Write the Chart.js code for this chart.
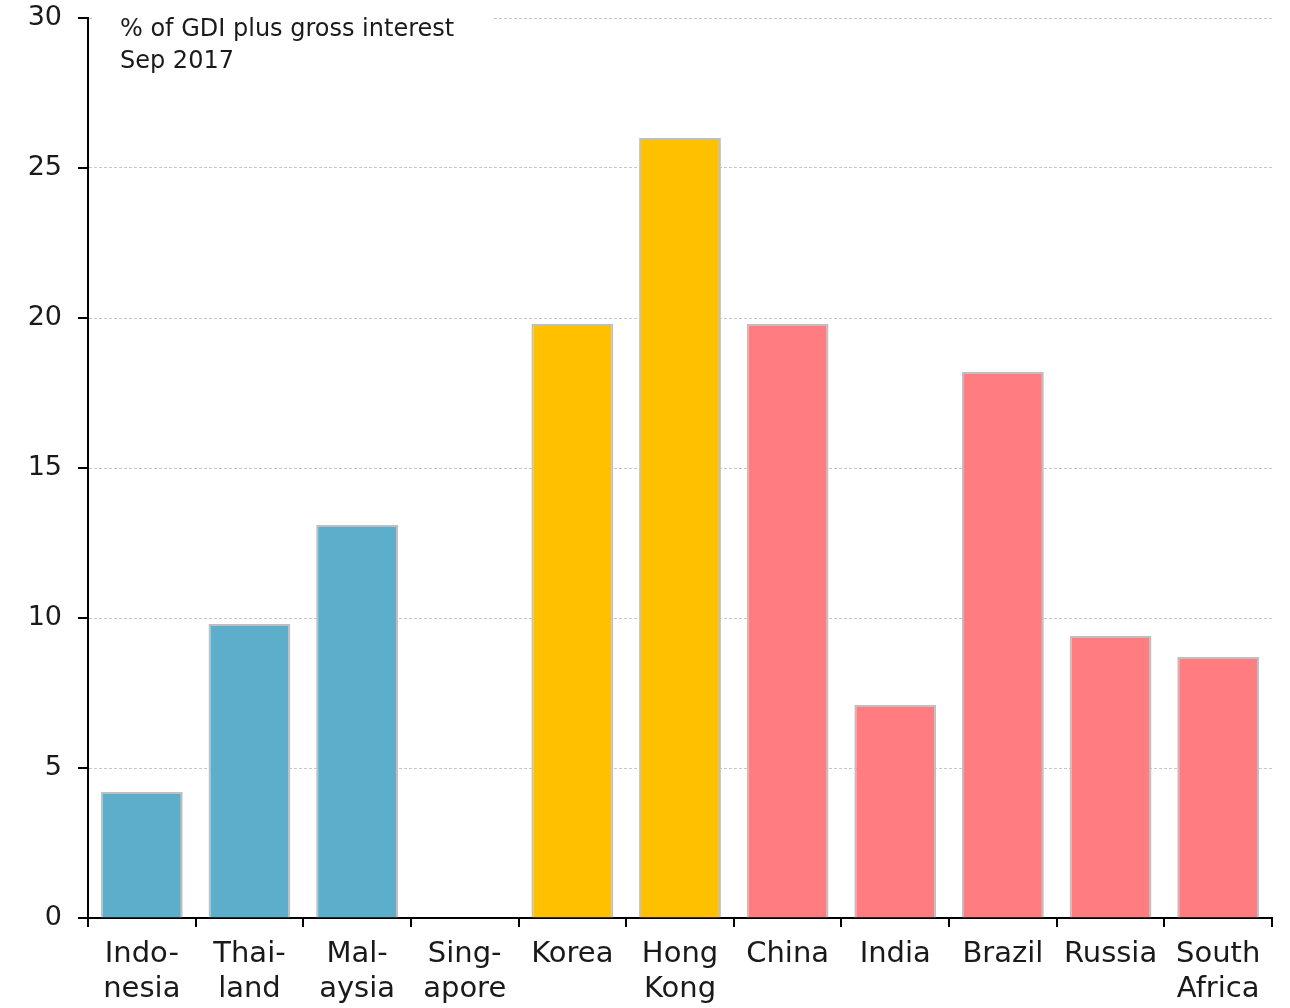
<!DOCTYPE html>
<html>
<head>
<meta charset="utf-8">
<script src="https://cdn.jsdelivr.net/npm/chart.js@4/dist/chart.umd.min.js"></script>
<style>
  html, body { margin: 0; padding: 0; background: #fff; }
  #wrap { width: 1290px; height: 1008px; }
</style>
</head>
<body>
<div id="wrap"><canvas id="debtChart" width="1290" height="1008"></canvas></div>
<script>
// Data
const categories = [
    ['Indo-', 'nesia'], ['Thai-', 'land'], ['Mal-', 'aysia'], ['Sing-', 'apore'],
    'Korea', ['Hong', 'Kong'], 'China', 'India', 'Brazil', 'Russia', ['South', 'Africa']
];
const debtService = [4.2, 9.8, 13.1, null, 19.8, 26.0, 19.8, 7.1, 18.2, 9.4, 8.7];
const groupColours = ['#5DAECB', '#5DAECB', '#5DAECB', '#5DAECB',
    '#FFC000', '#FFC000', '#FF7C80', '#FF7C80', '#FF7C80', '#FF7C80', '#FF7C80'];
const yTicks = [0, 5, 10, 15, 20, 25, 30];
const noteLines = ['% of GDI plus gross interest', 'Sep 2017'];

const FONT = '"DejaVu Sans", sans-serif';

// white box with the unit note in the top-left corner
const notePlugin = {
    id: 'note',
    afterDraw(chart) {
        const ctx = chart.ctx;
        const area = chart.chartArea;
        ctx.save();
        ctx.fillStyle = '#fff';
        ctx.fillRect(area.left + 4, area.top - 8, 400, 70);
        ctx.fillStyle = '#1a1a1a';
        ctx.font = '24px ' + FONT;
        ctx.textBaseline = 'middle';
        ctx.fillText(noteLines[0], area.left + 32, area.top + 12);
        ctx.fillText(noteLines[1], area.left + 32, area.top + 44);
        ctx.restore();
    }
};

const ctx = document.getElementById('debtChart').getContext('2d');
new Chart(ctx, {
    type: 'bar',
    data: {
        labels: categories,
        datasets: [{
            data: debtService,
            backgroundColor: groupColours,
            borderColor: '#BFBFBF',
            borderWidth: 2,
            barPercentage: 0.76,
            categoryPercentage: 1
        }]
    },
    options: {
        responsive: false,
        animation: false,
        layout: { padding: { top: 18, right: 18, left: 0, bottom: 0 } },
        plugins: {
            legend: { display: false },
            tooltip: { enabled: false }
        },
        scales: {
            x: {
                offset: true,
                grid: {
                    offset: true,
                    drawOnChartArea: false,
                    drawTicks: true,
                    tickLength: 9,
                    color: '#000',
                    lineWidth: 2
                },
                border: { color: '#000', width: 2 },
                ticks: {
                    color: '#1a1a1a',
                    font: { family: FONT, size: 29, lineHeight: 1.2 },
                    padding: 10,
                    maxRotation: 0,
                    autoSkip: false
                },
                afterFit(scale) { scale.height = 90; }
            },
            y: {
                min: 0,
                max: 30,
                afterBuildTicks(scale) { scale.ticks = yTicks.map(v => ({ value: v })); },
                grid: {
                    color: '#C8C8C8',
                    lineWidth: 1,
                    drawTicks: false
                },
                border: { color: '#000', width: 2, dash: [3, 2] },
                ticks: {
                    color: '#1a1a1a',
                    font: { family: FONT, size: 27 },
                    padding: 26
                },
                afterFit(scale) {
                    scale.width = 88;
                    scale.paddingTop = 0;
                    scale.paddingBottom = 0;
                }
            }
        }
    },
    plugins: [notePlugin, {
        id: 'axisTicks',
        // solid value axis line and outer tick marks
        beforeDatasetsDraw(chart) {
            const c = chart.ctx;
            const y = chart.scales.y;
            const area = chart.chartArea;
            c.save();
            c.strokeStyle = '#000';
            c.lineWidth = 2;
            c.setLineDash([]);
            c.beginPath();
            c.moveTo(area.left, area.top);
            c.lineTo(area.left, area.bottom);
            c.stroke();
            yTicks.forEach(v => {
                const py = Math.round(y.getPixelForValue(v));
                c.beginPath();
                c.moveTo(area.left - 10, py);
                c.lineTo(area.left, py);
                c.stroke();
            });
            c.restore();
        }
    }]
});
</script>
</body>
</html>
